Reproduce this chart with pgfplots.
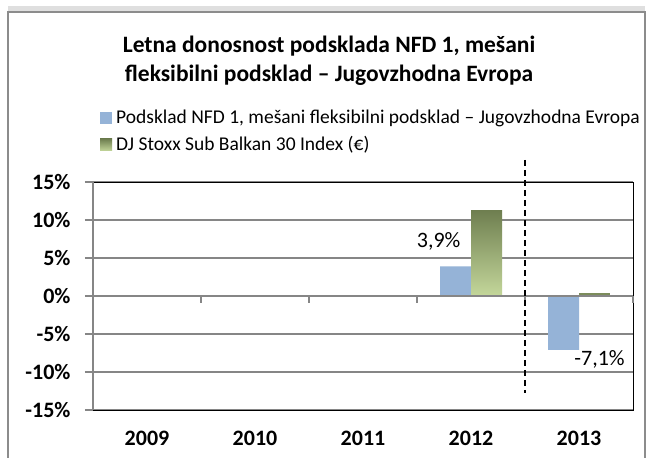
\documentclass[border=0pt]{standalone}
\usepackage{pgfplots}
\pgfplotsset{compat=1.18}
\usepackage{fontspec}
\setmainfont{Carlito}
\definecolor{barblue}{HTML}{95B3D7}
\definecolor{gdark}{HTML}{6F7F50}
\definecolor{glight}{HTML}{C4D79B}
\definecolor{gridgray}{HTML}{868686}
\definecolor{framegray}{HTML}{8C8C8C}
\begin{document}
\begin{tikzpicture}[x=1bp,y=1bp]
\path[use as bounding box] (0,0) rectangle (653,458);
\fill[gray!25] (8,446) rectangle (645,452);
\fill[white] (8,-2) rectangle (645,446);
\draw[framegray,line width=1.2bp] (8,-2) -- (8,446) -- (645,446) -- (645,-2);
\node[font=\fontsize{23.5bp}{29bp}\selectfont\bfseries,align=center] at (329,397.5) {Letna donosnost podsklada NFD 1, mešani\\fleksibilni podsklad – Jugovzhodna Evropa};
\fill[barblue] (100,334) rectangle (112,346);
\node[anchor=west,font=\fontsize{19.5bp}{22bp}\selectfont,inner sep=0pt] at (116,340) {Podsklad NFD 1, mešani fleksibilni podsklad – Jugovzhodna Evropa};
\shade[top color=gdark,bottom color=glight] (100,307) rectangle (112,319);
\node[anchor=west,font=\fontsize{19.5bp}{22bp}\selectfont,inner sep=0pt] at (116,313) {DJ Stoxx Sub Balkan 30 Index (€)};
\begin{axis}[
  at={(93bp,48bp)}, anchor=south west,
  width=540bp, height=228bp, scale only axis,
  xmin=0, xmax=5, ymin=-15, ymax=15,
  clip=false,
  axis line style={black, line width=0.8bp},
  ytick={-15,-10,-5,0,5,10,15},
  yticklabels={-15\%,-10\%,-5\%,0\%,5\%,10\%,15\%},
  ymajorgrids, major grid style={gridgray, line width=1.1bp},
  ytick style={gridgray, line width=1.1bp},
  major tick length=8bp, tick align=outside,
  ytick pos=left,
  yticklabel style={font=\fontsize{22bp}{24bp}\selectfont\bfseries, xshift=-11bp},
  xtick={0.5,1.5,2.5,3.5,4.5},
  xticklabels={2009,2010,2011,2012,2013},
  xtick style={draw=none},
  xticklabel style={font=\fontsize{22bp}{24bp}\selectfont\bfseries, yshift=-10bp},
  ybar=0pt, bar width=31bp,
]
\addplot[fill=barblue, draw=none, bar shift=-15.5bp] coordinates {(3.5,3.9) (4.5,-7.1)};
\addplot[draw=none, top color=gdark, bottom color=glight, bar shift=15.5bp] coordinates {(3.5,11.2)};
\addplot[draw=none, fill=gdark!85!glight, bar shift=15.5bp, forget plot] coordinates {(4.5,0.4)};
\draw[gridgray, line width=1.2bp] (axis cs:0,0) -- (axis cs:5,0);
\draw[gridgray, line width=1.2bp] (axis cs:0,-15) -- (axis cs:0,15);
\pgfplotsinvokeforeach{1,2,3,4,5}{\draw[gridgray, line width=1.2bp] (axis cs:#1,0) -- (axis cs:#1,-0.9);}
\draw[black, line width=1.2bp, dash pattern=on 6bp off 4bp] (axis cs:4,17.9) -- (axis cs:4,-12.8);
\node[font=\fontsize{22bp}{24bp}\selectfont] at (axis cs:3.2,7.2) {3,9\%};
\node[font=\fontsize{22bp}{24bp}\selectfont] at (axis cs:4.69,-8.4) {-7,1\%};
\end{axis}
\end{tikzpicture}
\end{document}
